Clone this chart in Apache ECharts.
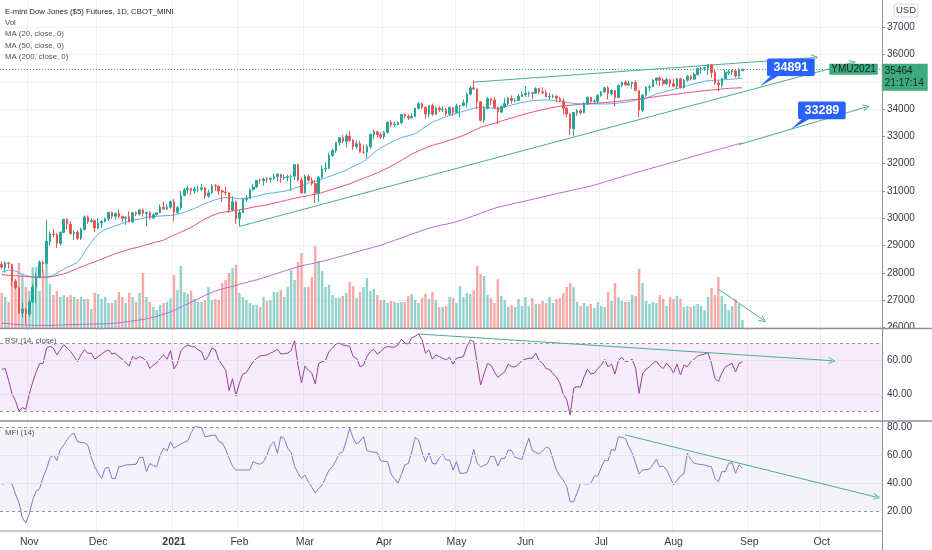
<!DOCTYPE html>
<html>
<head>
<meta charset="utf-8">
<script src="https://cdn.jsdelivr.net/npm/echarts@6/dist/echarts.min.js"></script>
<style>
html,body{margin:0;padding:0;background:#fff}
#chart{width:932px;height:550px}
</style>
</head>
<body>
<div id="chart"></div>
<script>
// trading calendar (CBOT daily bars), first visible bar 2020-10-21
const startDay = '2020-10-21';
const dayCount = 256;
const holidays = ['2020-11-26','2020-12-25','2021-01-01','2021-01-18','2021-02-15','2021-04-02','2021-05-31','2021-07-05','2021-09-06'];
const monthNames = ['Jan','Feb','Mar','Apr','May','Jun','Jul','Aug','Sep','Oct','Nov','Dec'];

// [open, high, low, close]
const ohlc = [
[28300,28420,28150,28211],[28200,28420,28000,28364],[28360,28400,28150,28336],[28300,28340,27500,27685],[27690,27780,27400,27463],
[27450,27500,26500,26520],[26530,26900,26350,26660],[26650,26720,26140,26502],[26480,27000,26380,26925],[26930,27600,26900,27480],
[27470,28000,26900,27847],[27850,28450,27800,28390],[28380,28450,28000,28323],[28350,29930,28300,29157],[29150,29520,29000,29421],
[29420,29600,29300,29398],[29400,29450,28900,29080],[29080,29520,29000,29479],[29480,29990,29450,29950],[29950,30000,29600,29784],
[29780,29900,29400,29438],[29430,29550,29200,29483],[29480,29550,29200,29263],[29260,29650,29200,29591],[29590,30100,29550,30046],
[30040,30100,29800,29872],[29870,30000,29850,29910],[29910,29950,29500,29638],[29640,30000,29600,29823],[29820,29920,29650,29883],
[29880,30030,29850,29969],[29970,30230,29900,30218],[30210,30250,29980,30070],[30070,30200,29950,30174],[30170,30320,29980,30068],
[30060,30100,29850,29999],[30000,30050,29750,30046],[30050,30250,29850,29861],[29860,30220,29850,30199],[30200,30250,30080,30155],
[30150,30320,30100,30304],[30300,30350,30050,30179],[30170,30230,29700,30216],[30210,30260,29950,30015],[30010,30200,29980,30129],
[30130,30220,30100,30200],[30200,30500,30180,30404],[30400,30600,30300,30335],[30340,30500,30300,30409],[30400,30650,30350,30606],
[30600,30700,29900,30223],[30220,30450,30150,30392],[30390,31000,30300,30829],[30830,31100,30800,31041],[31040,31200,30900,31098],
[31090,31120,30850,31009],[31000,31150,30900,31069],[31060,31200,30950,31061],[31060,31250,31000,31113],[31110,31150,30700,30814],
[30810,31050,30750,30930],[30930,31250,30900,31188],[31190,31260,31000,31176],[31170,31200,30850,30997],[31000,31050,30600,30960],
[30960,31150,30850,30937],[30930,30950,30200,30303],[30300,30800,30250,30603],[30600,30650,29800,29983],[29980,30300,29700,30212],
[30210,30750,30200,30688],[30690,30850,30600,30724],[30720,31100,30700,31056],[31060,31250,31000,31148],[31150,31400,31100,31386],
[31380,31450,31250,31375],[31370,31500,31200,31438],[31440,31500,31300,31431],[31430,31500,31300,31458],[31460,31650,31400,31523],
[31520,31650,31350,31613],[31610,31620,31300,31494],[31490,31600,31400,31494],[31490,31600,31350,31522],[31520,31600,31000,31537],
[31540,31980,31400,31962],[31960,32000,31350,31402],[31400,31500,30900,30932],[30930,31600,30900,31535],[31530,31600,31350,31391],
[31390,31500,31200,31270],[31270,31400,30550,30924],[30920,31550,30600,31496],[31500,31950,31450,31802],[31800,32050,31700,31833],
[31830,32400,31800,32297],[32300,32550,32250,32485],[32480,32800,32400,32779],[32780,32980,32650,32953],[32950,33050,32750,32826],
[32820,33100,32600,33015],[33010,33200,32800,32862],[32860,32900,32500,32628],[32630,32850,32550,32731],[32730,32850,32400,32423],
[32420,32700,32350,32420],[32420,32700,32200,32619],[32620,33100,32550,33072],[33070,33250,32900,33171],[33170,33200,32950,33067],
[33060,33150,32900,32982],[32980,33200,32900,33153],[33150,33550,33100,33527],[33520,33600,33350,33430],[33430,33550,33350,33446],
[33440,33550,33400,33503],[33500,33820,33450,33801],[33800,33850,33650,33746],[33740,33800,33600,33677],[33680,33850,33650,33730],
[33730,34050,33700,34036],[34030,34250,34000,34200],[34200,34250,34000,34078],[34070,34100,33650,33821],[33820,34150,33700,34137],
[34130,34200,33750,33815],[33810,34100,33780,34043],[34040,34100,33900,33981],[33980,34100,33900,33984],[33980,34050,33750,33820],
[33820,34100,33750,34060],[34060,34080,33750,33875],[33870,34200,33850,34113],[34110,34150,33700,34133],[34130,34350,34100,34230],
[34230,34600,34050,34548],[34550,34850,34500,34778],[34780,35050,34700,34743],[34740,34750,34000,34270],[34270,34300,33550,33587],
[33590,34100,33500,34022],[34020,34450,34000,34382],[34380,34400,34150,34327],[34330,34450,34000,34061],[34060,34100,33450,33896],
[33890,34150,33850,34084],[34080,34400,34050,34208],[34200,34450,34150,34394],[34390,34500,34200,34313],[34310,34400,34250,34323],
[34320,34550,34300,34465],[34460,34650,34450,34529],[34530,34850,34450,34575],[34570,34650,34450,34600],[34600,34620,34350,34577],
[34580,34800,34550,34756],[34750,34780,34550,34630],[34630,34800,34550,34600],[34600,34700,34450,34447],[34450,34600,34350,34466],
[34460,34550,34400,34480],[34480,34500,34250,34394],[34390,34450,34250,34299],[34300,34400,33800,34033],[34030,34100,33700,33823],
[33820,33850,33050,33290],[33290,33900,33020,33876],[33870,34000,33750,33945],[33940,34000,33800,33874],[33870,34250,33850,34196],
[34190,34450,34150,34433],[34430,34450,34200,34283],[34280,34350,34200,34292],[34290,34550,34200,34503],[34500,34650,34450,34633],
[34630,34800,34600,34786],[34780,34850,34350,34577],[34570,34720,34500,34681],[34680,34700,34100,34421],[34420,34900,34400,34870],
[34870,35000,34800,34996],[34990,35050,34850,34889],[34890,35050,34850,34933],[34930,35000,34750,34987],[34980,35050,34650,34688],
[34680,34700,33700,33962],[33960,34550,33900,34512],[34510,34850,34450,34798],[34800,34900,34650,34823],[34820,35100,34800,35061],
[35060,35150,34900,35144],[35140,35200,34850,35059],[35060,35150,34850,34930],[34930,35150,34900,35085],[35080,35100,34800,34935],
[34930,35100,34800,34838],[34840,35150,34750,35116],[35110,35150,34750,34793],[34790,35100,34750,35064],[35060,35250,35000,35209],
[35200,35250,35050,35102],[35100,35350,35080,35265],[35260,35500,35250,35485],[35480,35550,35300,35500],[35500,35550,35400,35516],
[35510,35650,35250,35626],[35620,35650,35150,35343],[35340,35450,34900,34961],[34960,35050,34650,34894],[34890,35150,34800,35120],
[35120,35450,35100,35336],[35330,35450,35250,35367],[35360,35450,35250,35406],[35400,35450,35150,35214],[35210,35500,35150,35456],
[35420,35480,35380,35464]
];

// volume, thousand contracts
const volume = [
175,155,130,230,220,325,270,205,185,305, 305,185,290,390,220,165,185,155,165,155,
165,155,145,155,145,145,95,175,170,145, 155,125,125,140,180,155,125,175,155,130,
175,275,155,130,105,90,115,125,130,150, 265,190,310,180,170,185,145,130,130,140,
205,140,145,140,225,240,275,300,315,175, 155,140,125,115,115,105,155,135,140,180,
180,190,155,205,290,240,330, 375,205,205,255,410,335,285,205,215,165,
150,150,160,175,230,210,150,180,205,250, 185,195,165,140,140,125,135,130,125,130,
130,160,170,140,125,150,170,145,180,140, 105,105,110,155,150,125,210,155,175,170,
190,310,270,260,165,150,125,245,160,140, 105,115,105,145,110,155,110,150,120,120,
135,125,155,125,145,150,175,205,225,205, 130,110,125,110,120,100,130,110,105,180,
135,225,155,135,130,130,165,160,295,225, 135,120,130,125,165,145,110,155,145,160,
145,105,110,105,110,120,110,90,155,200, 165,255,160,120,90,110,145,120,40
];

const ma20 = [
28020,28060,28090,28090,28060,28000,27950,27900,27870,27850,27840,27830,27830,27840,27860,27920,27990,28060,28130,28200,
28260,28320,28380,28550,28750,28940,29110,29280,29420,29510,29580,29630,29670,29720,29760,29810,29850,29890,29920,29950,
29970,30000,30030,30050,30060,30070,30080,30090,30100,30100,30120,30150,30180,30210,30260,30310,30360,30420,30470,30530,
30580,30630,30680,30710,30740,30760,30770,30750,30730,30710,30720,30740,30760,30780,30810,30840,30870,30900,30920,30930,
30950,30970,30990,31020,31060,31110,31140,31180,31230,31280,31320,31350,31380,31430,31480,31530,31570,31620,31670,31720,
31770,31830,31890,31950,32010,32080,32180,32280,32390,32490,32580,32650,32710,32780,32850,32910,32950,32990,33020,33060,
33090,33180,33270,33350,33440,33520,33570,33620,33670,33720,33770,33810,33840,33880,33920,33960,33990,34030,34060,34070,
34060,34050,34040,34030,34010,34050,34080,34120,34150,34180,34210,34240,34260,34290,34310,34320,34330,34330,34340,34330,
34320,34300,34280,34250,34240,34230,34210,34200,34190,34190,34190,34190,34190,34190,34190,34190,34190,34200,34210,34220,
34240,34250,34270,34300,34330,34350,34370,34410,34450,34500,34550,34590,34620,34660,34690,34720,34750,34790,34820,34860,
34900,34930,34960,34990,35020,35040,35050,35060,35060,35070,35080,35090,35100,35110,35120,35130
];
const ma50 = [
27930,27920,27910,27900,27890,27880,27870,27860,27850,27845,27840,27840,27840,27840,27850,27870,27900,27930,27960,28000,
28050,28100,28160,28210,28260,28310,28360,28400,28450,28500,28550,28600,28650,28700,28740,28780,28820,28860,28890,28920,
28950,28990,29030,29060,29100,29130,29160,29200,29260,29320,29380,29430,29490,29550,29610,29670,29740,29820,29900,29970,
30030,30090,30140,30190,30210,30230,30250,30270,30290,30310,30330,30350,30380,30410,30430,30450,30470,30490,30520,30550,
30580,30610,30640,30670,30700,30730,30760,30780,30800,30830,30860,30880,30900,30940,30980,31020,31060,31100,31140,31180,
31220,31260,31310,31360,31410,31460,31510,31560,31610,31660,31720,31780,31840,31910,31980,32050,32120,32200,32270,32350,
32410,32470,32520,32570,32620,32670,32710,32740,32780,32820,32860,32900,32940,32990,33040,33090,33150,33210,33270,33330,
33370,33410,33440,33480,33520,33560,33600,33640,33670,33710,33750,33790,33820,33860,33890,33920,33950,33980,34010,34040,
34060,34080,34100,34120,34130,34140,34150,34170,34180,34190,34200,34200,34210,34220,34230,34240,34250,34260,34270,34290,
34300,34320,34330,34350,34360,34370,34390,34400,34420,34440,34460,34480,34490,34510,34520,34540,34550,34570,34590,34600,
34620,34630,34650,34660,34670,34690,34700,34710,34720,34740,34750,34760,34770,34770,34780,34780
];
const ma200 = [
26150,26140,26130,26120,26110,26100,26090,26085,26080,26075,26070,26070,26070,26070,26070,26075,26080,26085,26090,26095,
26100,26100,26105,26110,26110,26115,26120,26120,26125,26125,26130,26130,26140,26150,26165,26180,26195,26210,26230,26250,
26270,26290,26310,26340,26370,26400,26440,26480,26520,26560,26620,26680,26740,26800,26860,26920,26990,27050,27110,27170,
27230,27280,27330,27370,27410,27440,27470,27500,27540,27570,27610,27640,27680,27710,27740,27780,27820,27860,27900,27940,
27980,28020,28060,28100,28140,28180,28220,28250,28280,28310,28330,28360,28390,28420,28450,28480,28520,28550,28590,28620,
28660,28690,28730,28760,28800,28840,28870,28900,28940,28970,29000,29050,29100,29140,29190,29230,29280,29320,29370,29410,
29460,29500,29550,29590,29630,29670,29700,29730,29760,29780,29810,29840,29870,29910,29950,30000,30040,30090,30130,30180,
30230,30270,30320,30360,30400,30430,30460,30490,30520,30550,30580,30600,30630,30660,30690,30720,30750,30780,30810,30840,
30870,30900,30930,30950,30980,31010,31040,31070,31090,31120,31150,31180,31210,31250,31290,31330,31370,31400,31440,31480,
31520,31560,31590,31630,31670,31700,31740,31780,31810,31850,31880,31920,31950,31990,32020,32060,32090,32130,32170,32200,
32240,32280,32310,32350,32380,32420,32450,32490,32520,32560,32590,32630,32660,32700,32730,32760
];

const rsi = [
54.5,55,48,40,36,30,32,31,40,47, 53,58,58,67,68,67,63,66,69,67,
65,62,59,63,66,64,64,60.5,62,63.5, 65,66,63.5,64,62,60.5,58.5,56.5,62,60.5,
62,61,59.6,55,57,58.4,61,63,60.5,65.5, 54.7,58,65.5,67.5,68.8,68,67.6,66,64.9,59.6,
62.4,66.9,66,60,57,54,42,49,39,46.5, 51.8,52.5,56,59,61,62.4,62.6,63,64,65,
66.3,63.5,63.8,64,65.5,71.4,57,46.6,56.5,54, 52.3,46,58,59,60,65,67,69.4,70,68.8,
68.5,68,62,61,56,57,62,65,66.3,63.5, 65,67,68,67.6,67.6,68.8,72.3,70,69.4,73,
74,75.3,71.8,64,66,60.5,63,62,61,60, 61.6,57.6,61,61.5,62,68,71.8,70.8,58,45.3,
52,58,57,53,49.8,51.5,53,57.6,56,56, 57.5,59.6,60.5,61,61,64,59.6,58,55,54.5,
52,50,46.3,40,36.5,27.6,43.4,44.3,44,50, 54.5,51.8,52.2,55,57,60.4,56,57.6,51.8,59.6,
61.6,59,59.5,60.4,55,40.4,51.8,54.5,56,58, 59.6,56.5,55,58,55.7,52.5,57.6,51.2,57,56,
59,60.5,62.4,63,63.5,64.3,58,49.2,47.3,52.2, 56,57,58,53,58,59
];
const mfi = [
39.3,39.6,39.8,39.3,32,26,15,11.5,18,28, 34,36,44,50,58,60,56,64,67,71,
74,75.5,69.5,69,68.8,67,58,51.6,47,43.3, 50.5,51.2,43.3,43.3,51.6,52,52.9,53,53.2,53.4,
58.3,58.3,48.1,54,52.5,51.6,60,64.8,62.9,69.5, 64.8,66.5,67.9,69,70.2,76,80.2,80,79.8,73.1,
73.5,74,74.3,69.5,68.8,64,57.6,52,49.3,49.3, 49.3,49.3,49.3,55.2,54,53.4,55.2,60,67.1,69.5,
61.2,73.1,71.9,65,61.6,52,47,43.3,45.7,41, 37,33.1,36,38.6,44,49.3,51.6,56,61.2,62.4,
70,79.1,72,67.9,70,73.1,63.1,62.5,62,61.6, 55.9,55.5,55.2,46.4,43,39.8,46,52.9,54,62,
72.6,70.7,62,55.2,61.6,54,53.6,58,60.7,56.4, 56.4,49.3,55.2,46.9,47,47.4,54,64.1,54,51.6,
52.5,54,59.3,58.8,52.1,57.6,57.6,63.6,63.1,58.3, 57.5,56.9,65,71.9,63.1,62,60.7,63,65.5,64.8,
57,49.3,45,42.1,37.4,26.6,26.6,33,39.8,39.5, 39.3,39.8,45,45,51,56.4,55.9,64.1,63.1,73.1,
72.5,71.9,66,61.2,54,46.4,49.3,49.5,49.8,53, 56.9,51.6,52.1,49.3,44,38.6,42,45,46.4,61.2,
57,54,53.6,53.2,52.9,52,51.6,43.3,40.9,48.1, 48.1,54,54.5,46.9,52.9,50.5
];

// drawings: [barIndex, value] end points
const upperWedge = [[137, 34990], [236, 35890]];
const lowerWedge = [[69, 29700], [247, 35707]];
const ma200Proj = [[214, 32700], [251, 34080]];
const volTrend = [[208, 195], [221, 40]];
const rsiTrend = [[121, 75.3], [241, 59.6]];
const mfiTrend = [[181, 74.3], [254, 29.8]];
const callouts = [{at: [220, 34830], text: '34891'}, {at: [229, 33250], text: '33289'}];
const lastPrice = 35464;
const countdown = '21:17:14';
const priceTicks = {min: 26000, max: 37000, step: 1000};

// ---- build
function tradingDays(start, count) {
  const out = [];
  const d = new Date(start + 'T00:00:00Z');
  while (out.length < count) {
    const wd = d.getUTCDay();
    const s = d.toISOString().slice(0, 10);
    if (wd !== 0 && wd !== 6 && holidays.indexOf(s) < 0) out.push(s);
    d.setUTCDate(d.getUTCDate() + 1);
  }
  return out;
}
const dates = tradingDays(startDay, dayCount);
const monthStart = new Set();
dates.forEach((d, i) => { if (i > 0 && d.slice(5, 7) !== dates[i - 1].slice(5, 7)) monthStart.add(i); });
const isMonthStart = (i) => monthStart.has(i);

const UP = '#26a69a', DOWN = '#ef5350';
const UP_VOL = 'rgba(38,166,154,0.5)', DOWN_VOL = 'rgba(239,83,80,0.5)';
const TREND = '#4aae90';
const FONT = '"Liberation Sans", Arial, sans-serif';
const TXT = '#363a45';
const SEP = '#8e9199';
const ARROW = 'path://M0,10 L5,0 L10,10 L8.6,10 L5,2.8 L1.4,10 Z';
const CALLOUT = 'path://M10,0 L58,0 Q60,0 60,2 L60,20 Q60,22 58,22 L20,22 L0,35 L12,22 L10,22 Q8,22 8,20 L8,2 Q8,0 10,0 Z';

const candleData = ohlc.map(r => [r[0], r[3], r[2], r[1]]);
const volData = volume.map((v, i) => ({value: v, itemStyle: {color: ohlc[i][3] >= ohlc[i][0] ? UP_VOL : DOWN_VOL}}));
const seg = (p) => [{coord: p[0]}, {coord: p[1]}];

// trend line with open arrow head at the far end
const trendMarks = (segs) => ({
  silent: true, symbol: ['none', ARROW], symbolSize: 7, label: {show: false},
  lineStyle: {color: TREND, width: 1, type: 'solid'}, data: segs.map(seg)
});
// horizontal levels, no end symbols
const levelMarks = (dashed, solid) => ({
  silent: true, symbol: ['none', 'none'], label: {show: false},
  data: solid.map(v => ({yAxis: v, lineStyle: {type: 'solid', color: '#e6e3ee', width: 1}}))
    .concat(dashed.map(v => ({yAxis: v, lineStyle: {type: [3, 3], color: '#9598a1', width: 1}})))
});

const grids = [
  {left: 0, width: 882, top: 0, height: 531},
  {left: 0, width: 882, top: 27.3, height: 300},
  {left: 0, width: 882, top: 228, height: 100},
  {left: 0, width: 882, top: 326, height: 102},
  {left: 0, width: 882, top: 399, height: 140}
].map(g => Object.assign(g, {outerBoundsMode: 'none', containLabel: false}));

const xAxes = grids.map((g, i) => {
  const ax = {type: 'category', gridIndex: i, data: dates, boundaryGap: true};
  if (i === 0) {
    Object.assign(ax, {
      axisLine: {show: false}, axisTick: {show: false},
      axisLabel: {
        interval: (idx) => isMonthStart(idx),
        formatter: (v) => v.slice(5, 7) === '01' ? '{b|' + v.slice(0, 4) + '}' : monthNames[+v.slice(5, 7) - 1],
        color: TXT, fontSize: 10.5, fontFamily: FONT, margin: 6,
        rich: {b: {fontWeight: 'bold', fontSize: 10.5, color: TXT, fontFamily: FONT}}
      },
      splitLine: {show: true, interval: (idx) => isMonthStart(idx), lineStyle: {color: '#eef0f4', width: 1}}
    });
  } else {
    ax.show = false;
  }
  return ax;
});

const sideLabel = {color: TXT, fontSize: 10, fontFamily: FONT, margin: 5};
const yAxes = [
  {gridIndex: 0, type: 'value', show: false, min: 0, max: 1},
  {gridIndex: 1, type: 'value', position: 'right', min: priceTicks.min, max: priceTicks.max, interval: priceTicks.step,
   axisLine: {show: false}, axisTick: {show: true, length: 3, lineStyle: {color: SEP}},
   axisLabel: Object.assign({formatter: (v) => String(v)}, sideLabel),
   splitLine: {lineStyle: {color: '#f0f3fa'}}},
  {gridIndex: 2, type: 'value', show: false, min: 0, max: 500},
  {gridIndex: 3, type: 'value', position: 'right', min: 20, max: 80, interval: 20,
   axisLine: {show: false}, axisTick: {show: false}, splitLine: {show: false},
   axisLabel: Object.assign({formatter: (v) => (v === 40 || v === 60) ? v.toFixed(2) : ''}, sideLabel)},
  {gridIndex: 4, type: 'value', position: 'right', min: 0, max: 100, interval: 20,
   axisLine: {show: false}, axisTick: {show: false}, splitLine: {show: false},
   axisLabel: Object.assign({formatter: (v) => (v > 0 && v < 100) ? v.toFixed(2) : ''}, sideLabel)}
];

const hidden = {opacity: 0, width: 0};

const option = {
  animation: false,
  backgroundColor: '#fff',
  grid: grids,
  xAxis: xAxes,
  yAxis: yAxes,
  series: [
    {
      name: 'Vol', type: 'bar', xAxisIndex: 2, yAxisIndex: 2, data: volData, barWidth: '70%', z: 1, silent: true,
      markLine: trendMarks([volTrend])
    },
    {
      name: 'YMU2021', type: 'candlestick', xAxisIndex: 1, yAxisIndex: 1, data: candleData, barWidth: '60%', z: 5,
      itemStyle: {color: UP, color0: DOWN, borderColor: UP, borderColor0: DOWN, borderWidth: 1},
      markLine: trendMarks([upperWedge, lowerWedge, ma200Proj]),
      markPoint: {
        silent: true,
        data: callouts.map(c => ({
          coord: c.at, symbol: CALLOUT, symbolSize: [55, 28], symbolOffset: [27.5, -14],
          itemStyle: {color: '#2962ff'},
          label: {show: true, formatter: c.text, color: '#fff', fontSize: 12.5, fontWeight: 'bold', fontFamily: FONT, offset: [3.7, -5.2]}
        })).concat([
          {coord: [dayCount - 1, lastPrice], symbol: 'rect', symbolSize: 1, itemStyle: {color: 'rgba(0,0,0,0)'},
           label: {show: true, position: 'left', distance: 2, formatter: 'YMU2021', color: '#10261c', fontSize: 10, fontFamily: FONT,
             backgroundColor: '#3daa7f', padding: [1, 2, 0, 2]}},
          {coord: [dayCount - 1, lastPrice], symbol: 'rect', symbolSize: 1, itemStyle: {color: 'rgba(0,0,0,0)'},
           label: {show: true, position: 'right', distance: 1, formatter: lastPrice + '\n' + countdown, color: '#10261c', fontSize: 10,
             fontFamily: FONT, lineHeight: 12, backgroundColor: '#3daa7f', padding: [2, 4, 1, 3], offset: [0, 8], align: 'left'}}
        ])
      }
    },
    {name: 'MA20', type: 'line', xAxisIndex: 1, yAxisIndex: 1, data: ma20, showSymbol: false, silent: true, z: 4,
     lineStyle: {color: '#5eaef0', width: 1},
     // last price line
     markLine: {silent: true, symbol: ['none', 'none'], label: {show: false},
       data: [{yAxis: lastPrice, lineStyle: {type: [1, 2], color: '#3da58a', width: 1}}]}},
    {name: 'MA50', type: 'line', xAxisIndex: 1, yAxisIndex: 1, data: ma50, showSymbol: false, silent: true, z: 4,
     lineStyle: {color: '#ec4f7a', width: 1}},
    {name: 'MA200', type: 'line', xAxisIndex: 1, yAxisIndex: 1, data: ma200, showSymbol: false, silent: true, z: 4,
     lineStyle: {color: '#bb6cd0', width: 1}},
    // RSI pane: levels carrier, then the RSI line itself
    {name: 'RSI levels', type: 'line', xAxisIndex: 3, yAxisIndex: 3, data: rsi, showSymbol: false, silent: true, z: 2,
     lineStyle: hidden,
     markArea: {silent: true, itemStyle: {color: 'rgba(170,80,210,0.11)'}, data: [[{yAxis: 30}, {yAxis: 70}]]},
     markLine: levelMarks([70, 30], [40, 60])},
    {name: 'RSI', type: 'line', xAxisIndex: 3, yAxisIndex: 3, data: rsi, showSymbol: false, silent: true, z: 4,
     lineStyle: {color: '#9a3fa4', width: 1}, markLine: trendMarks([rsiTrend])},
    // MFI pane
    {name: 'MFI levels', type: 'line', xAxisIndex: 4, yAxisIndex: 4, data: mfi, showSymbol: false, silent: true, z: 2,
     lineStyle: hidden,
     markArea: {silent: true, itemStyle: {color: 'rgba(126,100,190,0.075)'}, data: [[{yAxis: 20}, {yAxis: 80}]]},
     markLine: levelMarks([80, 20], [40, 60])},
    {name: 'MFI', type: 'line', xAxisIndex: 4, yAxisIndex: 4, data: mfi, showSymbol: false, silent: true, z: 4,
     lineStyle: {color: '#8676cf', width: 1}, markLine: trendMarks([mfiTrend])}
  ],
  graphic: [
    {type: 'rect', shape: {x: 883, y: 329, width: 49, height: 10}, style: {fill: '#fff'}, z: 90},
    {type: 'line', shape: {x1: 0, y1: 328.5, x2: 932, y2: 328.5}, style: {stroke: SEP, lineWidth: 1.6}, z: 100},
    {type: 'line', shape: {x1: 0, y1: 421, x2: 932, y2: 421}, style: {stroke: SEP, lineWidth: 1.6}, z: 100},
    {type: 'line', shape: {x1: 882.5, y1: 0, x2: 882.5, y2: 550}, style: {stroke: SEP, lineWidth: 1}, z: 100},
    {type: 'line', shape: {x1: 0, y1: 531, x2: 882, y2: 531}, style: {stroke: SEP, lineWidth: 1}, z: 100},
    {type: 'rect', shape: {x: 894, y: 4, width: 24, height: 13, r: 2}, style: {fill: '#fff', stroke: '#d6d8df', lineWidth: 1}, z: 100},
    {type: 'text', x: 906, y: 10.8, style: {text: 'USD', fill: TXT, font: '9.5px ' + FONT, align: 'center', verticalAlign: 'middle'}, z: 101},
    {type: 'text', x: 5, y: 12, style: {text: 'E-mini Dow Jones ($5) Futures, 1D, CBOT_MINI', fill: '#22252e', font: '7.8px ' + FONT, verticalAlign: 'middle'}, z: 101},
    {type: 'text', x: 5, y: 23, style: {text: 'Vol', fill: '#50535e', font: '7.8px ' + FONT, verticalAlign: 'middle'}, z: 101},
    {type: 'text', x: 5, y: 34.3, style: {text: 'MA (20, close, 0)', fill: '#50535e', font: '7.8px ' + FONT, verticalAlign: 'middle'}, z: 101},
    {type: 'text', x: 5, y: 45.5, style: {text: 'MA (50, close, 0)', fill: '#50535e', font: '7.8px ' + FONT, verticalAlign: 'middle'}, z: 101},
    {type: 'text', x: 5, y: 56.8, style: {text: 'MA (200, close, 0)', fill: '#50535e', font: '7.8px ' + FONT, verticalAlign: 'middle'}, z: 101},
    {type: 'text', x: 5, y: 341, style: {text: 'RSI (14, close)', fill: '#50535e', font: '7.8px ' + FONT, verticalAlign: 'middle'}, z: 101},
    {type: 'text', x: 5, y: 432.5, style: {text: 'MFI (14)', fill: '#50535e', font: '7.8px ' + FONT, verticalAlign: 'middle'}, z: 101}
  ]
};

const chart = echarts.init(document.getElementById('chart'), null, {renderer: 'canvas'});
chart.setOption(option);
</script>
</body>
</html>
